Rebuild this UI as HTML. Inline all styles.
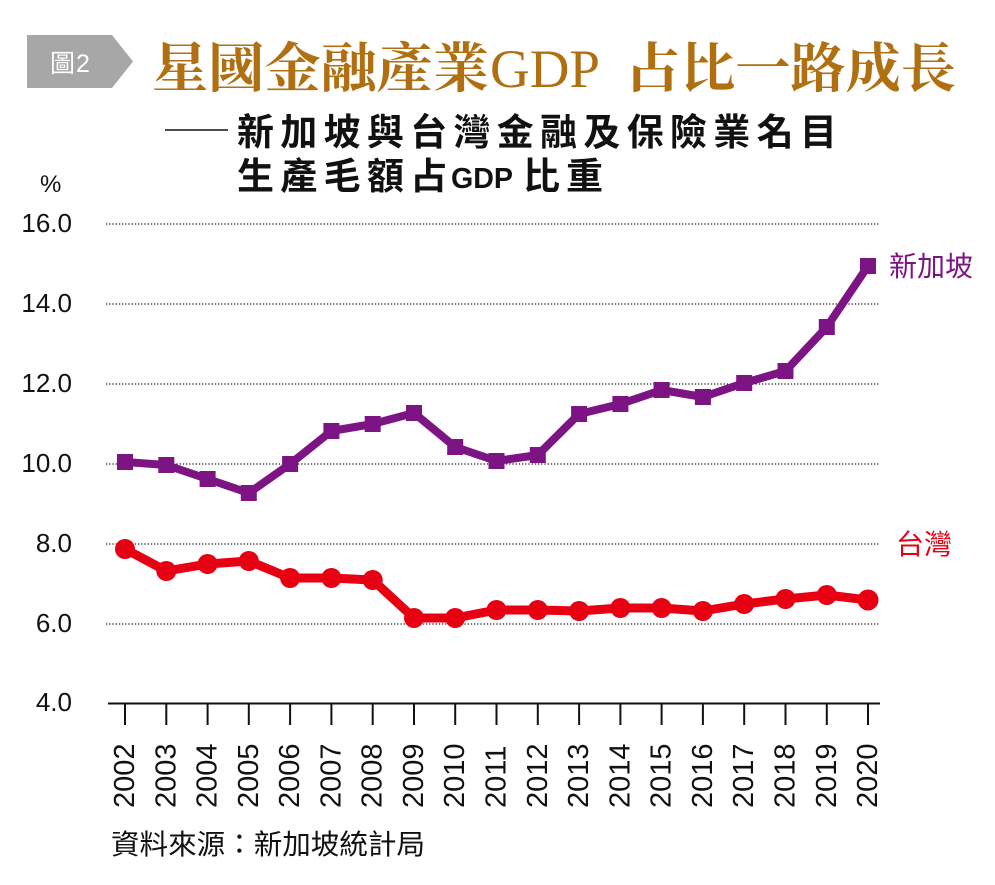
<!DOCTYPE html>
<html>
<head>
<meta charset="utf-8">
<style>
  html,body{margin:0;padding:0;background:#fff;}
  body{width:995px;height:885px;overflow:hidden;}
  svg{display:block;}
  .cjk{font-family:"Liberation Sans","Noto Sans CJK TC","Noto Sans CJK JP",sans-serif;}
  .serif{font-family:"Liberation Serif","Noto Serif CJK SC",serif;}
  .lat{font-family:"Liberation Sans",sans-serif;}
</style>
</head>
<body>
<svg width="995" height="885" viewBox="0 0 995 885" xmlns="http://www.w3.org/2000/svg">
  <!-- badge -->
  <polygon points="27,35 112,35 133,61.5 112,88 27,88" fill="#a7a7a7"/>
  <text x="50" y="72" class="cjk" font-size="25" fill="#fff">圖</text>
  <text x="76" y="72" class="lat" font-size="25" fill="#fff">2</text>

  <!-- title -->
  <text x="152" y="87" class="serif" font-size="54" font-weight="bold" fill="#b06f10" textLength="337" lengthAdjust="spacingAndGlyphs">星國金融產業</text>
  <text x="490" y="87" class="serif" font-size="54" fill="#b06f10" textLength="110" lengthAdjust="spacingAndGlyphs">GDP</text>
  <text x="625" y="87" class="serif" font-size="54" font-weight="bold" fill="#b06f10" textLength="331" lengthAdjust="spacingAndGlyphs">占比一路成長</text>

  <!-- subtitle -->
  <line x1="165" y1="130" x2="228" y2="130" stroke="#111" stroke-width="1.5"/>
  <text y="145" class="cjk" font-size="37" font-weight="bold" fill="#111"
    x="237 280.3 323.6 366.9 410.2 453.5 496.8 540.1 583.4 626.7 670 713.3 756.6 799.9">新加坡與台灣金融及保險業名目</text>
  <text y="189" class="cjk" font-size="37" font-weight="bold" fill="#111"
    x="237 280.3 323.6 366.9 410.2">生產毛額占</text>
  <text x="451" y="188" class="lat" font-size="29" font-weight="bold" fill="#111" textLength="62" lengthAdjust="spacingAndGlyphs">GDP</text>
  <text y="189" class="cjk" font-size="37" font-weight="bold" fill="#111" x="523 566">比重</text>

  <!-- % -->
  <text x="40" y="192" class="lat" font-size="24" fill="#111">%</text>

  <!-- gridlines -->
  <g stroke="#222" stroke-width="1.3" stroke-dasharray="1.3 1.9" fill="none">
    <line x1="106" y1="224" x2="880" y2="224"/>
    <line x1="106" y1="304" x2="880" y2="304"/>
    <line x1="106" y1="384" x2="880" y2="384"/>
    <line x1="106" y1="464" x2="880" y2="464"/>
    <line x1="106" y1="544" x2="880" y2="544"/>
    <line x1="106" y1="624" x2="880" y2="624"/>
  </g>

  <!-- y labels -->
  <g class="lat" font-size="26" fill="#111" text-anchor="end">
    <text x="72" y="232">16.0</text>
    <text x="72" y="312">14.0</text>
    <text x="72" y="392">12.0</text>
    <text x="72" y="472">10.0</text>
    <text x="72" y="552">8.0</text>
    <text x="72" y="632">6.0</text>
    <text x="72" y="711">4.0</text>
  </g>

  <!-- x axis -->
  <line x1="108" y1="703.5" x2="880" y2="703.5" stroke="#111" stroke-width="2"/>
  <g stroke="#111" stroke-width="2">
    <line x1="125" y1="703" x2="125" y2="725"/>
    <line x1="166.3" y1="703" x2="166.3" y2="725"/>
    <line x1="207.6" y1="703" x2="207.6" y2="725"/>
    <line x1="248.8" y1="703" x2="248.8" y2="725"/>
    <line x1="290.1" y1="703" x2="290.1" y2="725"/>
    <line x1="331.4" y1="703" x2="331.4" y2="725"/>
    <line x1="372.7" y1="703" x2="372.7" y2="725"/>
    <line x1="414" y1="703" x2="414" y2="725"/>
    <line x1="455.2" y1="703" x2="455.2" y2="725"/>
    <line x1="496.5" y1="703" x2="496.5" y2="725"/>
    <line x1="537.8" y1="703" x2="537.8" y2="725"/>
    <line x1="579.1" y1="703" x2="579.1" y2="725"/>
    <line x1="620.4" y1="703" x2="620.4" y2="725"/>
    <line x1="661.6" y1="703" x2="661.6" y2="725"/>
    <line x1="702.9" y1="703" x2="702.9" y2="725"/>
    <line x1="744.2" y1="703" x2="744.2" y2="725"/>
    <line x1="785.5" y1="703" x2="785.5" y2="725"/>
    <line x1="826.8" y1="703" x2="826.8" y2="725"/>
    <line x1="868" y1="703" x2="868" y2="725"/>
  </g>

  <!-- year labels -->
  <g class="lat" font-size="29" fill="#111">
    <text transform="translate(134,808) rotate(-90)">2002</text>
    <text transform="translate(175.3,808) rotate(-90)">2003</text>
    <text transform="translate(216.6,808) rotate(-90)">2004</text>
    <text transform="translate(257.8,808) rotate(-90)">2005</text>
    <text transform="translate(299.1,808) rotate(-90)">2006</text>
    <text transform="translate(340.4,808) rotate(-90)">2007</text>
    <text transform="translate(381.7,808) rotate(-90)">2008</text>
    <text transform="translate(423,808) rotate(-90)">2009</text>
    <text transform="translate(464.2,808) rotate(-90)">2010</text>
    <text transform="translate(505.5,808) rotate(-90)">2011</text>
    <text transform="translate(546.8,808) rotate(-90)">2012</text>
    <text transform="translate(588.1,808) rotate(-90)">2013</text>
    <text transform="translate(629.4,808) rotate(-90)">2014</text>
    <text transform="translate(670.6,808) rotate(-90)">2015</text>
    <text transform="translate(711.9,808) rotate(-90)">2016</text>
    <text transform="translate(753.2,808) rotate(-90)">2017</text>
    <text transform="translate(794.5,808) rotate(-90)">2018</text>
    <text transform="translate(835.8,808) rotate(-90)">2019</text>
    <text transform="translate(877,808) rotate(-90)">2020</text>
  </g>

  <!-- Singapore series -->
  <polyline fill="none" stroke="#7d1484" stroke-width="8" stroke-linejoin="round"
    points="125,462 166.3,465 207.6,479 248.8,493 290.1,464 331.4,431 372.7,424 414,413 455.2,447 496.5,461 537.8,455 579.1,414 620.4,404 661.6,390 702.9,397 744.2,383 785.5,371 826.8,327 868,266"/>
  <g fill="#7d1484">
    <rect x="117" y="454" width="16" height="16"/>
    <rect x="158.3" y="457" width="16" height="16"/>
    <rect x="199.6" y="471" width="16" height="16"/>
    <rect x="240.8" y="485" width="16" height="16"/>
    <rect x="282.1" y="456" width="16" height="16"/>
    <rect x="323.4" y="423" width="16" height="16"/>
    <rect x="364.7" y="416" width="16" height="16"/>
    <rect x="406" y="405" width="16" height="16"/>
    <rect x="447.2" y="439" width="16" height="16"/>
    <rect x="488.5" y="453" width="16" height="16"/>
    <rect x="529.8" y="447" width="16" height="16"/>
    <rect x="571.1" y="406" width="16" height="16"/>
    <rect x="612.4" y="396" width="16" height="16"/>
    <rect x="653.6" y="382" width="16" height="16"/>
    <rect x="694.9" y="389" width="16" height="16"/>
    <rect x="736.2" y="375" width="16" height="16"/>
    <rect x="777.5" y="363" width="16" height="16"/>
    <rect x="818.8" y="319" width="16" height="16"/>
    <rect x="860" y="258" width="16" height="16"/>
  </g>

  <!-- Taiwan series -->
  <polyline fill="none" stroke="#e60012" stroke-width="9" stroke-linejoin="round"
    points="125,549 166.3,571 207.6,564 248.8,561 290.1,578 331.4,578 372.7,580 414,618 455.2,618 496.5,610 537.8,610 579.1,611 620.4,608 661.6,608 702.9,611 744.2,604 785.5,599 826.8,595 868,600"/>
  <g fill="#e60012">
    <circle cx="125" cy="549" r="10"/>
    <circle cx="166.3" cy="571" r="10"/>
    <circle cx="207.6" cy="564" r="10"/>
    <circle cx="248.8" cy="561" r="10"/>
    <circle cx="290.1" cy="578" r="10"/>
    <circle cx="331.4" cy="578" r="10"/>
    <circle cx="372.7" cy="580" r="10"/>
    <circle cx="414" cy="618" r="10"/>
    <circle cx="455.2" cy="618" r="10"/>
    <circle cx="496.5" cy="610" r="10"/>
    <circle cx="537.8" cy="610" r="10"/>
    <circle cx="579.1" cy="611" r="10"/>
    <circle cx="620.4" cy="608" r="10"/>
    <circle cx="661.6" cy="608" r="10"/>
    <circle cx="702.9" cy="611" r="10"/>
    <circle cx="744.2" cy="604" r="10"/>
    <circle cx="785.5" cy="599" r="10"/>
    <circle cx="826.8" cy="595" r="10"/>
    <circle cx="868" cy="600" r="10.5"/>
  </g>

  <!-- series labels -->
  <text x="889" y="276" class="cjk" font-size="28" fill="#7d1484">新加坡</text>
  <text x="896" y="554" class="cjk" font-size="28" fill="#e60012">台灣</text>

  <!-- source -->
  <text x="111" y="854" class="cjk" font-size="28" fill="#111" textLength="314" lengthAdjust="spacingAndGlyphs">資料來源：新加坡統計局</text>
</svg>
</body>
</html>
